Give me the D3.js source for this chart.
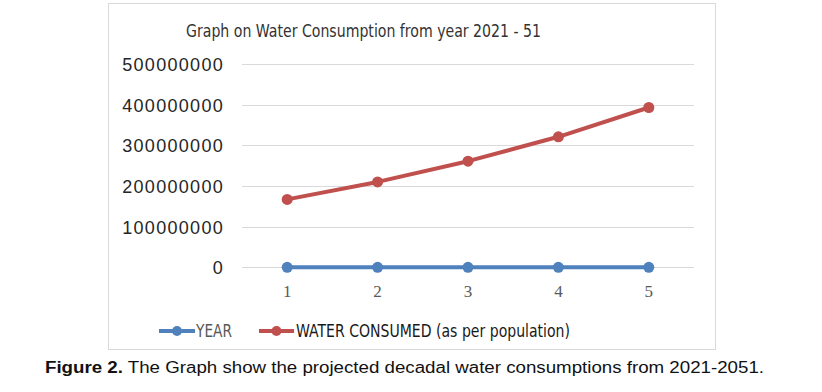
<!DOCTYPE html>
<html><head><meta charset="utf-8">
<script src="https://cdn.jsdelivr.net/npm/d3@7"></script>
<style>body{margin:0;background:#fff}svg{display:block}</style>
</head><body>
<svg id="c" width="822" height="392"></svg>
<script>
const categories = ["1","2","3","4","5"];
const yearValues = [2011, 2021, 2031, 2041, 2051];
const waterValues = [167000000, 210000000, 261000000, 321000000, 393000000];
const yTicks = [0, 100000000, 200000000, 300000000, 400000000, 500000000];
const seriesNames = ["YEAR", "WATER CONSUMED (as per population)"];
const seriesColors = ["#4F81BD", "#C0504D"];

const svg = d3.select("#c");
const narrow = "'Liberation Sans Narrow','DejaVu Sans Condensed','Arial Narrow',sans-serif";

// chart frame
svg.append("rect").attr("x",108.5).attr("y",3.5).attr("width",607).attr("height",346)
  .attr("fill","#fff").attr("stroke","#D9D9D9").attr("stroke-width",1);

const x = d3.scaleBand().domain(categories).range([242, 694]);
const y = d3.scaleLinear().domain([0, 500000000]).range([267.3, 64]);

// grid
svg.append("g").selectAll("line").data(yTicks).join("line")
  .attr("x1",242).attr("x2",694)
  .attr("y1",d=>Math.round(y(d))+0.5).attr("y2",d=>Math.round(y(d))+0.5)
  .attr("stroke","#D9D9D9").attr("stroke-width",1);

// y axis labels
const yAxis = d3.axisLeft(y).tickValues(yTicks).tickFormat(d3.format("d")).tickSize(0).tickPadding(0);
const gy = svg.append("g").attr("transform","translate(224,0)").call(yAxis);
gy.select(".domain").remove();
gy.selectAll("text").attr("font-family","'Liberation Sans',Arial,sans-serif")
  .attr("font-size",18).attr("fill","#262626").attr("letter-spacing","1.3px").attr("dy","0.36em");

// x axis labels
const xAxis = d3.axisBottom(x).tickSize(0).tickPadding(0);
const gx = svg.append("g").attr("transform","translate(0,285)").call(xAxis);
gx.select(".domain").remove();
gx.selectAll("text").attr("font-family","'Liberation Serif','Times New Roman',serif")
  .attr("font-size",17).attr("fill","#595959").attr("dy","0.71em");

const cx = d => x(d) + x.bandwidth()/2;
const line = d3.line().x(d=>cx(d[0])).y(d=>y(d[1]));

[yearValues, waterValues].forEach((vals, i) => {
  const data = categories.map((c, k) => [c, vals[k]]);
  svg.append("path").datum(data).attr("d", line).attr("fill","none")
    .attr("stroke", seriesColors[i]).attr("stroke-width",4).attr("stroke-linejoin","round");
  svg.append("g").selectAll("circle").data(data).join("circle")
    .attr("cx",d=>cx(d[0])).attr("cy",d=>y(d[1])).attr("r",5.5).attr("fill",seriesColors[i]);
});

// title
svg.append("text").attr("x",186).attr("y",37).attr("font-family",narrow)
  .attr("font-size",18).attr("fill","#333").attr("textLength",355).attr("lengthAdjust","spacingAndGlyphs")
  .text("Graph on Water Consumption from year 2021 - 51");

// legend
const legend = [{x1:159,x2:195,tx:196,tw:36},{x1:259,x2:294,tx:296,tw:274}];
legend.forEach((l,i)=>{
  svg.append("line").attr("x1",l.x1).attr("x2",l.x2).attr("y1",331).attr("y2",331)
    .attr("stroke",seriesColors[i]).attr("stroke-width",4);
  svg.append("circle").attr("cx",(l.x1+l.x2)/2).attr("cy",331).attr("r",5).attr("fill",seriesColors[i]);
  svg.append("text").attr("x",l.tx).attr("y",337).attr("font-family",narrow)
    .attr("font-size",17).attr("fill", i===0 ? "#595959" : "#1a1a1a")
    .attr("textLength",l.tw).attr("lengthAdjust","spacingAndGlyphs").text(seriesNames[i]);
});

// caption
const cap = svg.append("text").attr("x",45).attr("y",373)
  .attr("font-family","'Liberation Sans',Arial,sans-serif").attr("font-size",16).attr("fill","#111")
  .attr("textLength",719).attr("lengthAdjust","spacingAndGlyphs");
cap.append("tspan").attr("font-weight","bold").text("Figure 2.");
cap.append("tspan").text(" The Graph show the projected decadal water consumptions from 2021-2051.");
</script>
</body></html>
